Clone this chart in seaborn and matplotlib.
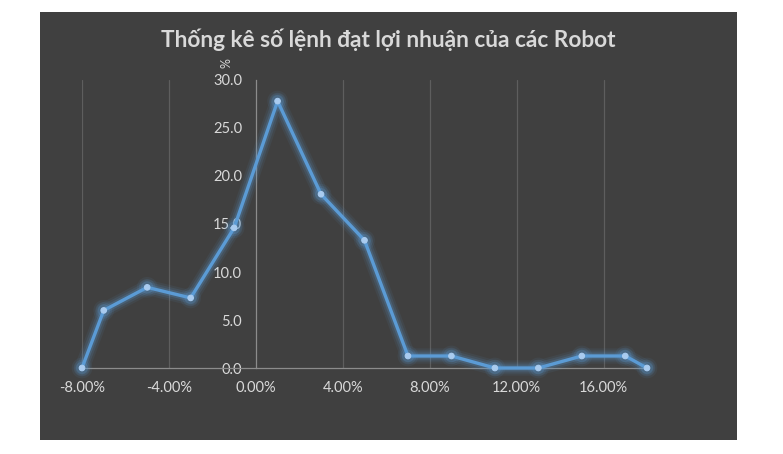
import matplotlib
matplotlib.use("Agg")
import matplotlib.pyplot as plt
import matplotlib.patheffects as pe
from matplotlib.patches import Rectangle
from matplotlib.ticker import FuncFormatter, MultipleLocator
import seaborn as sns
import pandas as pd

# Data
profit_pct = [-8, -7, -5, -3, -1, 1, 3, 5, 7, 9, 11, 13, 15, 17, 18]
orders_pct = [0.0, 6.0, 8.4, 7.3, 14.6, 27.8, 18.1, 13.3, 1.25, 1.25, 0.0, 0.0, 1.25, 1.25, 0.0]
title = "Thống kê số lệnh đạt lợi nhuận của các Robot"
y_title = "%"

df = pd.DataFrame({"x": profit_pct, "y": orders_pct})

sns.set_theme(style="dark")
plt.rcParams["font.family"] = ["Lato", "DejaVu Sans"]

BG = "#404040"
TXT = "#d9d9d9"
LINE = "#5b9bd5"

fig = plt.figure(figsize=(7.83, 4.54), dpi=100, facecolor="white")
fig.patches.append(Rectangle((40 / 783, 1 - 440 / 454), (737 - 40) / 783, (440 - 12) / 454,
                             transform=fig.transFigure, facecolor=BG, edgecolor="none", zorder=-5))

ax = fig.add_axes([82 / 783, 1 - 368 / 454, 565 / 783, 288 / 454])
ax.set_facecolor("none")

sns.lineplot(data=df, x="x", y="y", ax=ax, color=LINE, linewidth=2.4,
             marker="o", markersize=4, markerfacecolor="#a9cbef", markeredgecolor="#a9cbef",
             clip_on=False, zorder=5)
ln = ax.lines[0]
ln.set_path_effects([
    pe.Stroke(linewidth=11, foreground=LINE, alpha=0.08),
    pe.Stroke(linewidth=8, foreground=LINE, alpha=0.13),
    pe.Stroke(linewidth=5, foreground=LINE, alpha=0.22),
    pe.Normal(),
])

ax.set_xlim(-8, 18)
ax.set_ylim(0, 30)
ax.xaxis.set_major_locator(MultipleLocator(4))
ax.yaxis.set_major_locator(MultipleLocator(5))
ax.xaxis.set_major_formatter(FuncFormatter(lambda v, p: f"{v:.2f}%"))
ax.yaxis.set_major_formatter(FuncFormatter(lambda v, p: f"{v:.1f}"))

for s in ["top", "right"]:
    ax.spines[s].set_visible(False)
ax.spines["left"].set_position(("data", 0))
ax.spines["left"].set_color("#8c8c8c")
ax.spines["bottom"].set_color("#8c8c8c")
ax.spines["left"].set_linewidth(0.9)
ax.spines["bottom"].set_linewidth(0.9)

ax.grid(False)
for v in [-8, -4, 4, 8, 12, 16]:
    ax.axvline(v, color="#5e5e5e", linewidth=0.9, zorder=1)

ax.tick_params(axis="both", colors=TXT, labelsize=10.5, length=0)
ax.tick_params(axis="x", pad=9)
ax.tick_params(axis="y", pad=10)
ax.set_xlabel("")
ax.set_ylabel("")

ax.text(-1.35, 31.2, y_title, rotation=90, color=TXT, fontsize=9, ha="center", va="bottom")

fig.text(388 / 783, 1 - 40 / 454, title, ha="center", va="center",
         fontsize=16.3, fontweight="bold", color=TXT)

fig.savefig("out.png", dpi=100, facecolor="white")
